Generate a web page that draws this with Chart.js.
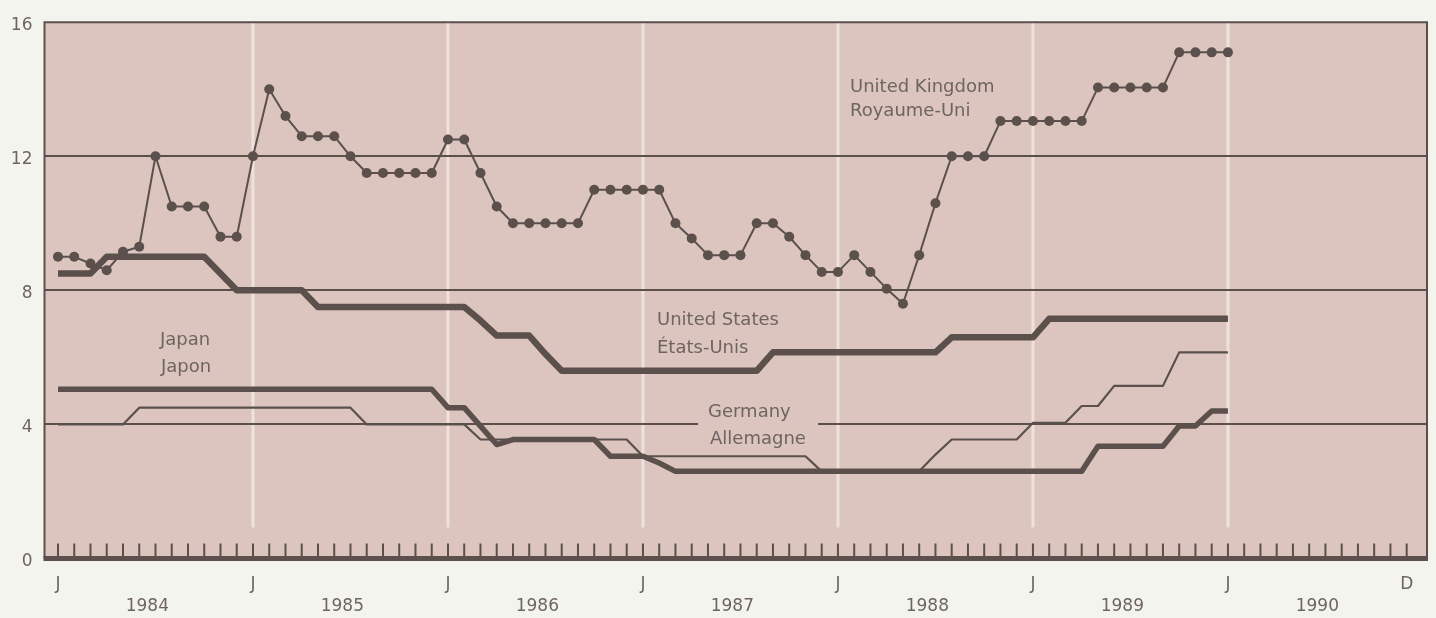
<!DOCTYPE html>
<html>
<head>
<meta charset="utf-8">
<script src="https://cdn.jsdelivr.net/npm/chart.js@4.4.1/dist/chart.umd.min.js"></script>
<style>
  html, body { margin: 0; padding: 0; background: #f4f4ef; }
  #wrap { width: 1436px; height: 618px; }
</style>
</head>
<body>
<div id="wrap"><canvas id="rates" width="1436" height="618"></canvas></div>
<script>
// monthly values, Jan 1984 (index 0) to Jan 1990 (index 72)
const ukRate = [
    9.0, 9.0, 8.8, 8.6, 9.15, 9.3, 12.0, 10.5, 10.5, 10.5, 9.6, 9.6,
    12.0, 14.0, 13.2, 12.6, 12.6, 12.6, 12.0, 11.5, 11.5, 11.5, 11.5, 11.5,
    12.5, 12.5, 11.5, 10.5, 10.0, 10.0, 10.0, 10.0, 10.0, 11.0, 11.0, 11.0,
    11.0, 11.0, 10.0, 9.55, 9.05, 9.05, 9.05, 10.0, 10.0, 9.6, 9.05, 8.55,
    8.55, 9.05, 8.55, 8.05, 7.6, 9.05, 10.6, 12.0, 12.0, 12.0, 13.05, 13.05,
    13.05, 13.05, 13.05, 13.05, 14.05, 14.05, 14.05, 14.05, 14.05, 15.1, 15.1, 15.1,
    15.1
];
const usRate = [
    8.5, 8.5, 8.5, 9, 9, 9, 9, 9, 9, 9, 8.5, 8,
    8, 8, 8, 8, 7.5, 7.5, 7.5, 7.5, 7.5, 7.5, 7.5, 7.5,
    7.5, 7.5, 7.1, 6.65, 6.65, 6.65, 6.1, 5.6, 5.6, 5.6, 5.6, 5.6,
    5.6, 5.6, 5.6, 5.6, 5.6, 5.6, 5.6, 5.6, 6.15, 6.15, 6.15, 6.15,
    6.15, 6.15, 6.15, 6.15, 6.15, 6.15, 6.15, 6.6, 6.6, 6.6, 6.6, 6.6,
    6.6, 7.15, 7.15, 7.15, 7.15, 7.15, 7.15, 7.15, 7.15, 7.15, 7.15, 7.15,
    7.15
];
const japanRate = [
    5.05, 5.05, 5.05, 5.05, 5.05, 5.05, 5.05, 5.05, 5.05, 5.05, 5.05, 5.05,
    5.05, 5.05, 5.05, 5.05, 5.05, 5.05, 5.05, 5.05, 5.05, 5.05, 5.05, 5.05,
    4.5, 4.5, 3.95, 3.4, 3.55, 3.55, 3.55, 3.55, 3.55, 3.55, 3.05, 3.05,
    3.05, 2.85, 2.6, 2.6, 2.6, 2.6, 2.6, 2.6, 2.6, 2.6, 2.6, 2.6,
    2.6, 2.6, 2.6, 2.6, 2.6, 2.6, 2.6, 2.6, 2.6, 2.6, 2.6, 2.6,
    2.6, 2.6, 2.6, 2.6, 3.35, 3.35, 3.35, 3.35, 3.35, 3.95, 3.95, 4.4,
    4.4
];
const germanyRate = [
    4.0, 4.0, 4.0, 4.0, 4.0, 4.5, 4.5, 4.5, 4.5, 4.5, 4.5, 4.5,
    4.5, 4.5, 4.5, 4.5, 4.5, 4.5, 4.5, 4.0, 4.0, 4.0, 4.0, 4.0,
    4.0, 4.0, 3.55, 3.55, 3.55, 3.55, 3.55, 3.55, 3.55, 3.55, 3.55, 3.55,
    3.05, 3.05, 3.05, 3.05, 3.05, 3.05, 3.05, 3.05, 3.05, 3.05, 3.05, 2.6,
    2.6, 2.6, 2.6, 2.6, 2.6, 2.6, 3.1, 3.55, 3.55, 3.55, 3.55, 3.55,
    4.05, 4.05, 4.05, 4.55, 4.55, 5.15, 5.15, 5.15, 5.15, 6.15, 6.15, 6.15,
    6.15
];

const tickMonths = [0, 12, 24, 36, 48, 60, 72, 83];
const tickLetters = ['J', 'J', 'J', 'J', 'J', 'J', 'J', 'D'];
const years = ['1984', '1985', '1986', '1987', '1988', '1989', '1990'];
const yTicks = [0, 4, 8, 12, 16];

const seriesLabels = [
    { lines: ['United Kingdom', 'Royaume-Uni'], x: 850, y: 87, gap: 24, indent: 0 },
    { lines: ['United States', 'États-Unis'], x: 657, y: 320, gap: 28, indent: 0 },
    { lines: ['Japan', 'Japon'], x: 160, y: 340, gap: 27, indent: 1 },
    { lines: ['Germany', 'Allemagne'], x: 708, y: 412, gap: 27, indent: 2, box: true }
];

const ink = '#5b504c';
const textCol = '#6e6562';
const plotBg = '#dbc5be';
const font17 = { family: 'DejaVu Sans', size: 17 };

const toPoints = arr => arr.map((v, i) => ({ x: i, y: v }));

const decor = {
    id: 'decor',
    beforeDraw(chart) {
        const { ctx, chartArea: a, scales: { x } } = chart;
        ctx.save();
        ctx.fillStyle = plotBg;
        ctx.fillRect(a.left, a.top, a.right - a.left, a.bottom - a.top);
        // light year separators
        ctx.strokeStyle = '#efe2dc';
        ctx.lineWidth = 3;
        for (let m = 12; m <= 72; m += 12) {
            const px = x.getPixelForValue(m);
            ctx.beginPath();
            ctx.moveTo(px, a.top);
            ctx.lineTo(px, a.bottom - 31);
            ctx.stroke();
        }
        ctx.restore();
    },
    beforeDatasetsDraw(chart) {
        const { ctx } = chart;
        ctx.save();
        ctx.font = '18px "DejaVu Sans"';
        ctx.textBaseline = 'middle';
        ctx.textAlign = 'left';
        seriesLabels.forEach(l => {
            if (l.box) {
                ctx.fillStyle = plotBg;
                ctx.fillRect(l.x - 10, l.y - 6, 120, 30);
            }
            ctx.fillStyle = textCol;
            l.lines.forEach((t, k) => ctx.fillText(t, l.x + (k ? l.indent : 0), l.y + k * l.gap));
        });
        ctx.restore();
    },
    afterDraw(chart) {
        const { ctx, chartArea: a, scales: { x } } = chart;
        ctx.save();
        ctx.strokeStyle = ink;
        // month tick marks
        ctx.lineWidth = 2;
        for (let m = 0; m <= 83; m++) {
            const px = x.getPixelForValue(m);
            ctx.beginPath();
            ctx.moveTo(px, a.bottom);
            ctx.lineTo(px, a.bottom - 15);
            ctx.stroke();
        }
        // frame
        ctx.lineWidth = 2;
        ctx.beginPath();
        ctx.moveTo(a.left, a.bottom);
        ctx.lineTo(a.left, a.top);
        ctx.lineTo(a.right, a.top);
        ctx.lineTo(a.right, a.bottom);
        ctx.stroke();
        ctx.lineWidth = 5;
        ctx.beginPath();
        ctx.moveTo(a.left - 1, a.bottom);
        ctx.lineTo(a.right + 1, a.bottom);
        ctx.stroke();
        // year labels
        ctx.fillStyle = textCol;
        ctx.font = '17px "DejaVu Sans"';
        ctx.textAlign = 'center';
        ctx.textBaseline = 'middle';
        years.forEach((yr, k) => ctx.fillText(yr, x.getPixelForValue(12 * k + 5.5), 607));
        ctx.restore();
    }
};

const ctx = document.getElementById('rates').getContext('2d');
new Chart(ctx, {
    type: 'line',
    data: {
        datasets: [
            {
                label: 'United Kingdom',
                data: toPoints(ukRate),
                borderColor: ink,
                backgroundColor: ink,
                borderWidth: 2,
                pointRadius: 5,
                pointBorderWidth: 0,
                pointBackgroundColor: ink
            },
            {
                label: 'United States',
                data: toPoints(usRate),
                borderColor: ink,
                borderWidth: 6.5,
                pointRadius: 0
            },
            {
                label: 'Japan',
                data: toPoints(japanRate),
                borderColor: ink,
                borderWidth: 5.5,
                pointRadius: 0
            },
            {
                label: 'Germany',
                data: toPoints(germanyRate),
                borderColor: ink,
                borderWidth: 2.2,
                pointRadius: 0
            }
        ]
    },
    options: {
        responsive: false,
        devicePixelRatio: 1,
        animation: false,
        layout: { padding: { top: 11, right: 9, left: 0, bottom: 0 } },
        plugins: { legend: { display: false }, tooltip: { enabled: false } },
        elements: { line: { tension: 0, borderCapStyle: 'butt', borderJoinStyle: 'round' } },
        scales: {
            x: {
                type: 'linear',
                min: -0.83,
                max: 84.25,
                afterBuildTicks: s => { s.ticks = tickMonths.map(v => ({ value: v })); },
                afterFit: s => { s.height = 59.5; },
                ticks: {
                    autoSkip: false,
                    maxRotation: 0,
                    padding: 16,
                    color: textCol,
                    font: font17,
                    callback: v => tickLetters[tickMonths.indexOf(v)]
                },
                grid: { display: false, drawTicks: false },
                border: { display: false }
            },
            y: {
                min: 0,
                max: 16,
                afterBuildTicks: s => { s.ticks = yTicks.map(v => ({ value: v })); },
                afterFit: s => { s.width = 44.5; },
                ticks: {
                    padding: 12,
                    labelOffset: 3,
                    color: textCol,
                    font: font17
                },
                grid: {
                    drawTicks: false,
                    lineWidth: 2,
                    color: c => (c.tick && c.tick.value > 0 && c.tick.value < 16) ? ink : 'rgba(0,0,0,0)'
                },
                border: { display: false }
            }
        }
    },
    plugins: [decor]
});
</script>
</body>
</html>
